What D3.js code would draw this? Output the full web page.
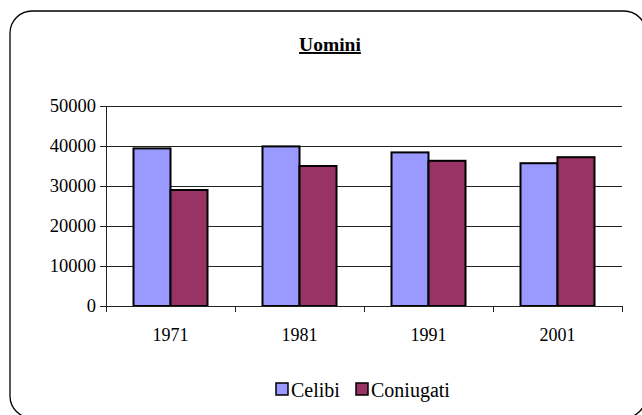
<!DOCTYPE html>
<html><head><meta charset="utf-8">
<script src="https://cdn.jsdelivr.net/npm/d3@7"></script>
<style>body{margin:0;background:#fff}svg{display:block}</style>
</head><body><svg id="c" width="642" height="415"></svg>
<script>
const title = "Uomini";
const categories = ["1971","1981","1991","2001"];
const seriesNames = ["Celibi","Coniugati"];
const celibi = [39400, 39900, 38400, 35700];
const coniugati = [29000, 35000, 36300, 37200];
const yTicks = [0,10000,20000,30000,40000,50000];
const colors = ["#9999FF","#993366"];

const FONT = "'Liberation Serif', 'Times New Roman', serif";
const svg = d3.select("#c").attr("font-family",FONT);
svg.append("rect").attr("x",10).attr("y",11).attr("width",636).attr("height",407).attr("rx",22)
  .attr("fill","#fff").attr("stroke","#000").attr("stroke-width",1.3);

const L=106,R=622,T=106,B=306;
const x0 = d3.scaleBand().domain(categories).range([L,R]).padding(0);
const x1 = d3.scaleBand().domain(seriesNames).range([27.5,101.5]);
const y = d3.scaleLinear().domain([0,50000]).range([B,T]);

// title
svg.append("text").attr("x",330).attr("y",51).attr("text-anchor","middle")
  .attr("font-family",FONT).attr("font-size",19.5).attr("font-weight","bold")
  .attr("text-decoration","underline").attr("fill","#000").text(title);

// gridlines
svg.append("g").selectAll("line").data(yTicks.filter(d=>d>0)).join("line")
  .attr("x1",L).attr("x2",R).attr("y1",d=>Math.round(y(d))+0.5).attr("y2",d=>Math.round(y(d))+0.5)
  .attr("stroke","#222").attr("stroke-width",1);

// y axis
const ya = svg.append("g").attr("transform",`translate(${L},0)`)
  .call(d3.axisLeft(y).tickValues(yTicks).tickSize(6).tickPadding(4).tickFormat(d3.format("d")));
ya.attr("font-family",FONT).attr("font-size",18.5);
ya.select(".domain").attr("stroke","#222");
ya.selectAll(".tick line").attr("stroke","#222");
ya.selectAll("text").attr("font-family",FONT).attr("font-size",18.5).attr("fill","#000");

// bars
const data = categories.map((c,i)=>({c, vals:[celibi[i],coniugati[i]]}));
const g = svg.append("g").selectAll("g").data(data).join("g").attr("transform",d=>`translate(${x0(d.c)},0)`);
g.selectAll("rect").data(d=>d.vals.map((v,j)=>({s:seriesNames[j],v,j}))).join("rect")
  .attr("x",d=>x1(d.s)).attr("width",x1.bandwidth())
  .attr("y",d=>y(d.v)).attr("height",d=>B-y(d.v))
  .attr("fill",d=>colors[d.j]).attr("stroke","#000").attr("stroke-width",2);

// x axis
svg.append("line").attr("x1",L).attr("x2",R).attr("y1",B+0.5).attr("y2",B+0.5).attr("stroke","#222");
const boundaries = categories.map(c=>x0(c)).concat([R]);
svg.append("g").selectAll("line").data(boundaries).join("line")
  .attr("x1",d=>Math.round(d)+0.5).attr("x2",d=>Math.round(d)+0.5).attr("y1",B).attr("y2",B+6).attr("stroke","#222");
svg.append("g").selectAll("text").data(categories).join("text")
  .attr("x",d=>x0(d)+x0.bandwidth()/2).attr("y",341).attr("text-anchor","middle")
  .attr("font-family",FONT).attr("font-size",18).attr("fill","#000").text(d=>d);

// legend
const legX = [276,356];
const lg = svg.append("g").selectAll("g").data(seriesNames).join("g").attr("transform",(d,i)=>`translate(${legX[i]},383)`);
lg.append("rect").attr("width",12).attr("height",12).attr("fill",(d,i)=>colors[i]).attr("stroke","#000").attr("stroke-width",1.5);
lg.append("text").attr("x",15).attr("y",14).attr("font-family",FONT).attr("font-size",20).attr("fill","#000").text(d=>d);
</script></body></html>
